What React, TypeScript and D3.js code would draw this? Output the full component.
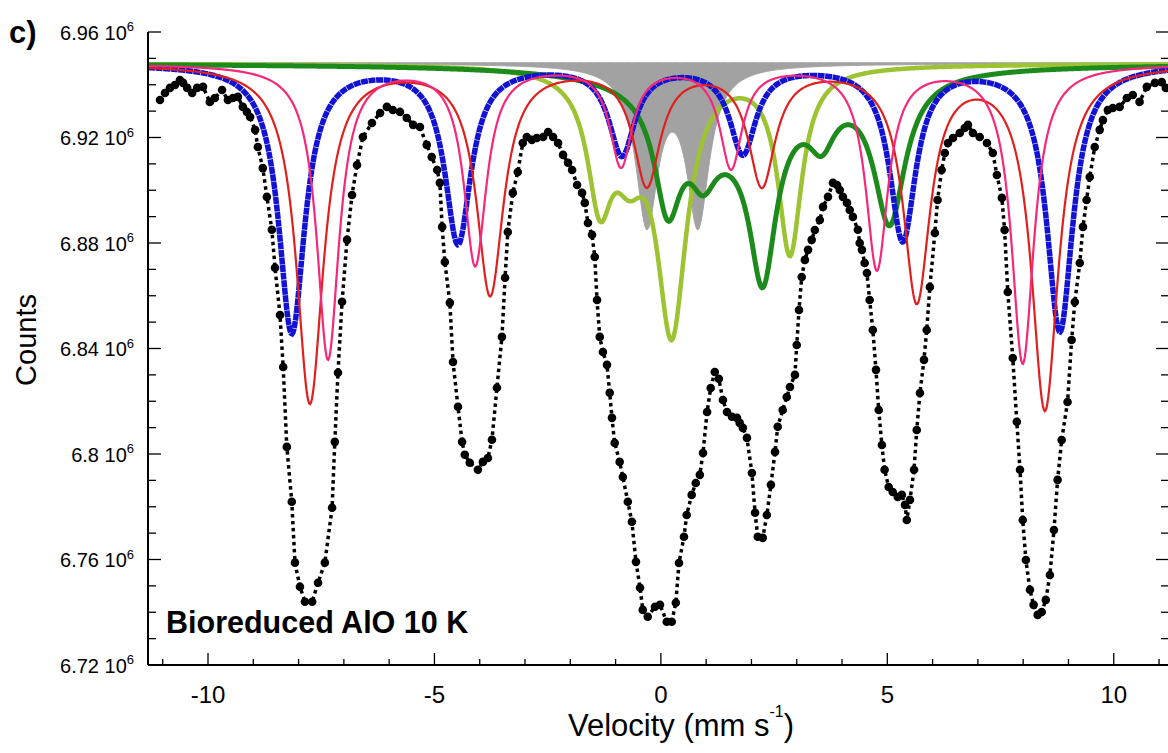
import React from "react";
import * as d3 from "d3";

const W = 1168;
const H = 753;

// axis ticks
const yTicksMajor = [6.72, 6.76, 6.8, 6.84, 6.88, 6.92, 6.96];
const xTicksMajor = [-10, -5, 0, 5, 10];

// fitted baseline (counts ×10^6)
const BASELINE = 6.948;

// measured spectrum: velocity (mm/s)
const velocity = [
  -11.06, -10.95, -10.84, -10.73, -10.62, -10.55, -10.46, -10.35, -10.24, -10.11,
  -9.96, -9.85, -9.69, -9.56, -9.45, -9.34, -9.23, -9.14, -9.07, -8.96,
  -8.9, -8.79, -8.7, -8.59, -8.52, -8.41, -8.34, -8.26, -8.15, -8.08,
  -7.97, -7.86, -7.7, -7.57, -7.42, -7.26, -7.2, -7.13, -7.04, -6.93,
  -6.82, -6.71, -6.58, -6.38, -6.2, -6.05, -5.92, -5.76, -5.61, -5.47,
  -5.32, -5.17, -5.06, -4.94, -4.88, -4.83, -4.77, -4.66, -4.59, -4.48,
  -4.39, -4.33, -4.22, -4.04, -3.93, -3.82, -3.73, -3.62, -3.51, -3.44,
  -3.38, -3.27, -3.16, -3.05, -2.96, -2.85, -2.74, -2.6, -2.49, -2.38,
  -2.27, -2.16, -2.05, -1.96, -1.85, -1.74, -1.68, -1.61, -1.52, -1.46,
  -1.41, -1.35, -1.28, -1.19, -1.13, -1.08, -1.02, -0.91, -0.84, -0.73,
  -0.64, -0.55, -0.46, -0.4, -0.29, -0.13, -0.02, 0.13, 0.24, 0.33,
  0.4, 0.51, 0.57, 0.68, 0.77, 0.86, 0.93, 1.02, 1.1, 1.19,
  1.28, 1.37, 1.46, 1.57, 1.68, 1.74, 1.81, 1.9, 2.01, 2.08,
  2.14, 2.25, 2.34, 2.43, 2.52, 2.58, 2.69, 2.78, 2.85, 2.96,
  3.0, 3.05, 3.11, 3.18, 3.25, 3.33, 3.4, 3.51, 3.58, 3.69,
  3.8, 3.89, 3.95, 4.02, 4.11, 4.17, 4.24, 4.35, 4.39, 4.44,
  4.5, 4.55, 4.61, 4.68, 4.75, 4.81, 4.88, 4.94, 5.03, 5.12,
  5.23, 5.32, 5.39, 5.43, 5.5, 5.59, 5.65, 5.72, 5.81, 5.87,
  5.94, 6.05, 6.11, 6.2, 6.27, 6.34, 6.45, 6.6, 6.71, 6.78,
  6.89, 7.04, 7.2, 7.33, 7.42, 7.53, 7.59, 7.66, 7.77, 7.86,
  7.93, 7.99, 8.06, 8.15, 8.23, 8.32, 8.41, 8.5, 8.59, 8.68,
  8.76, 8.85, 8.98, 9.07, 9.14, 9.25, 9.32, 9.4, 9.47, 9.58,
  9.69, 9.76, 9.87, 9.98, 10.13, 10.29, 10.42, 10.57, 10.73, 10.91,
  11.06, 11.15,
];

// measured spectrum: counts (×10^6)
const counts = [
  6.9342, 6.9369, 6.9388, 6.9399, 6.9418, 6.9407, 6.9388, 6.9369, 6.9388, 6.9392,
  6.9335, 6.935, 6.938, 6.9342, 6.935, 6.9354, 6.9316, 6.9297, 6.9278, 6.9229,
  6.9164, 6.9084, 6.8975, 6.885, 6.8706, 6.8527, 6.833, 6.8027, 6.7819, 6.7588,
  6.7497, 6.744, 6.744, 6.7512, 6.7588, 6.7796, 6.8046, 6.8308, 6.8577, 6.8812,
  6.8982, 6.9096, 6.9202, 6.9255, 6.9293, 6.9316, 6.9304, 6.9297, 6.9274, 6.9248,
  6.924, 6.9172, 6.9126, 6.9077, 6.9028, 6.8861, 6.8728, 6.8573, 6.8349, 6.8179,
  6.8046, 6.7997, 6.7967, 6.794, 6.797, 6.7985, 6.8054, 6.8251, 6.8444, 6.8668,
  6.8842, 6.899, 6.9069, 6.9179, 6.9202, 6.9191, 6.9198, 6.9202, 6.9221, 6.9202,
  6.9179, 6.9134, 6.9104, 6.9077, 6.902, 6.899, 6.8952, 6.8876, 6.8831, 6.8747,
  6.8584, 6.8444, 6.8387, 6.8338, 6.8232, 6.8137, 6.8042, 6.797, 6.7913, 6.7819,
  6.7743, 6.7591, 6.7493, 6.7409, 6.7383, 6.7421, 6.7428, 6.7364, 6.7364, 6.7436,
  6.7587, 6.7686, 6.7769, 6.7845, 6.789, 6.7921, 6.8004, 6.8159, 6.825, 6.8311,
  6.8285, 6.8205, 6.8159, 6.8141, 6.8137, 6.8118, 6.8099, 6.8061, 6.7928, 6.7777,
  6.7686, 6.7682, 6.7769, 6.7883, 6.8008, 6.8103, 6.8167, 6.8216, 6.8254, 6.83,
  6.8413, 6.8546, 6.8671, 6.8736, 6.8774, 6.8812, 6.8849, 6.8887, 6.8937, 6.8975,
  6.9028, 6.902, 6.9001, 6.8975, 6.8952, 6.8925, 6.8899, 6.885, 6.88, 6.8774,
  6.8724, 6.8686, 6.8584, 6.847, 6.8319, 6.8167, 6.8034, 6.794, 6.7875, 6.7856,
  6.7837, 6.7845, 6.7807, 6.775, 6.7826, 6.794, 6.8091, 6.8231, 6.8357, 6.847,
  6.8633, 6.8838, 6.8963, 6.9077, 6.9141, 6.9179, 6.9198, 6.9217, 6.9236, 6.9248,
  6.9217, 6.9202, 6.9179, 6.9141, 6.9058, 6.8971, 6.8849, 6.8614, 6.8364, 6.8122,
  6.794, 6.775, 6.7598, 6.7485, 6.7428, 6.739, 6.7401, 6.7447, 6.7541, 6.7712,
  6.7902, 6.8053, 6.8197, 6.8432, 6.8576, 6.8724, 6.8861, 6.8963, 6.905, 6.9164,
  6.9229, 6.9266, 6.9304, 6.9312, 6.9316, 6.935, 6.9361, 6.9335, 6.9392, 6.9407,
  6.941, 6.9388,
];

// fitted sub-spectra: [line position (mm/s), depth (×10^6 counts), half width (mm/s)]
const blueSextet = [
  [-8.15, 0.1016, 0.35], [-4.48, 0.0672, 0.35], [-0.86, 0.0335, 0.35],
  [1.81, 0.033, 0.35], [5.34, 0.066, 0.35], [8.81, 0.1008, 0.35],
];
const redSextet = [
  [-7.75, 0.1281, 0.36], [-3.77, 0.0864, 0.36], [-0.31, 0.0445, 0.36],
  [2.23, 0.0445, 0.36], [5.65, 0.0883, 0.36], [8.48, 0.13, 0.36],
];
const pinkSextet = [
  [-7.35, 0.1115, 0.3], [-4.1, 0.0754, 0.3], [-0.88, 0.0378, 0.3],
  [1.55, 0.0385, 0.3], [4.77, 0.077, 0.3], [7.99, 0.113, 0.3],
];
const darkGreenLines = [
  [1.6, 0.0227, 1.6], [0.15, 0.0417, 0.35], [0.93, 0.019, 0.35],
  [2.25, 0.0607, 0.35], [3.55, 0.0171, 0.35], [5.05, 0.0553, 0.42],
];
const lightGreenLines = [
  [-1.35, 0.0455, 0.33], [-0.7, 0.0273, 0.42], [0.24, 0.0974, 0.4], [2.85, 0.0701, 0.32],
];
const grayDoublet = [
  [-0.31, 0.0591, 0.3], [0.82, 0.0591, 0.3],
];

const FONT = "'Liberation Sans', Arial, Helvetica, sans-serif";

const x = d3.scaleLinear().domain([-11.325, 11.22]).range([148, 1169]);
const y = d3.scaleLinear().domain([6.72, 6.96]).range([665, 32]);

function spectrum(lines: number[][]): [number, number][] {
  const [v0, v1] = x.domain();
  const vs = d3.range(v0, v1 + 0.001, 0.02);
  return vs.map((v) => {
    let c = BASELINE;
    for (const [p, d, w] of lines) {
      const t = (v - p) / w;
      c -= d / (1 + t * t);
    }
    return [v, c];
  });
}

const line = d3
  .line<[number, number]>()
  .x((d) => x(d[0]))
  .y((d) => y(d[1]));

export default function App() {
  const data: [number, number][] = velocity.map((v, i) => [v, counts[i]]);
  const grayPts = spectrum(grayDoublet);
  const grayArea = d3
    .area<[number, number]>()
    .x((d) => x(d[0]))
    .y0(() => y(BASELINE) - 1)
    .y1((d) => y(d[1]));

  const yMinor = d3.range(6.72, 6.9601, 0.01);
  const xMinor = d3.range(-11, 11.01, 1);
  const xAxisY = y(6.72);
  const left = x.range()[0];
  const right = x.range()[1];

  const fmt = (v: number) => String(+v.toFixed(2));

  return (
    <svg
      width={W}
      height={H}
      style={{ position: "absolute", left: 0, top: 0, background: "#fff" }}
      fontFamily={FONT}
    >
      <rect x={0} y={0} width={W} height={H} fill="#fff" />
      <defs>
        <clipPath id="plot">
          <rect x={left} y={y(6.96) - 2} width={right - left} height={xAxisY - y(6.96) + 2} />
        </clipPath>
      </defs>

      <g clipPath="url(#plot)">
        <path d={grayArea(grayPts) || ""} fill="#a2a2a2" stroke="#a2a2a2" strokeWidth={1} />
        <path d={line(spectrum(lightGreenLines)) || ""} fill="none" stroke="#9dc332" strokeWidth={4.5} />
        <path d={line(spectrum(darkGreenLines)) || ""} fill="none" stroke="#1c8b1c" strokeWidth={5} />
        <path
          d={line(spectrum(blueSextet)) || ""}
          fill="none"
          stroke="#1212d4"
          strokeWidth={5.5}
          strokeDasharray="7 0.6"
        />
        <path d={line(spectrum(redSextet)) || ""} fill="none" stroke="#e0201e" strokeWidth={2.2} />
        <path d={line(spectrum(pinkSextet)) || ""} fill="none" stroke="#f5287a" strokeWidth={2.2} />
        <path
          d={line(data) || ""}
          fill="none"
          stroke="#000"
          strokeWidth={3.5}
          strokeDasharray="3.5 3.5"
        />
        {data.map((d, i) => (
          <circle key={i} cx={x(d[0])} cy={y(d[1])} r={4.3} fill="#000" />
        ))}
      </g>

      {/* axes */}
      <line x1={left} x2={left} y1={y(6.96)} y2={xAxisY} stroke="#000" strokeWidth={2} />
      <line x1={left} x2={W} y1={xAxisY} y2={xAxisY} stroke="#000" strokeWidth={2} />
      {yMinor.map((v, i) => {
        const major = yTicksMajor.some((m) => Math.abs(m - v) < 1e-6);
        const len = major ? 13 : 8;
        return (
          <g key={"yt" + i}>
            <line x1={left} x2={left + len} y1={y(v)} y2={y(v)} stroke="#000" strokeWidth={1.3} />
            <line x1={right} x2={right - len} y1={y(v)} y2={y(v)} stroke="#000" strokeWidth={1.3} />
          </g>
        );
      })}
      {xMinor.map((v, i) => {
        const major = xTicksMajor.includes(Math.round(v));
        const len = major ? 12 : 6;
        return (
          <line
            key={"xt" + i}
            x1={x(v)}
            x2={x(v)}
            y1={xAxisY}
            y2={xAxisY - len}
            stroke="#000"
            strokeWidth={1.3}
          />
        );
      })}

      {yTicksMajor.map((v) => (
        <text key={"yl" + v} x={134} y={y(v) + 7.5} textAnchor="end" fontSize={20} fill="#000">
          {fmt(v) + " 10"}
          <tspan dy={-8.5} fontSize={13}>
            6
          </tspan>
        </text>
      ))}
      {xTicksMajor.map((v) => (
        <text key={"xl" + v} x={x(v)} y={703} textAnchor="middle" fontSize={24} fill="#000">
          {v < 0 ? "-" + Math.abs(v) : String(v)}
        </text>
      ))}

      <text x={681} y={736} textAnchor="middle" fontSize={31} fill="#000">
        Velocity (mm s
        <tspan dy={-19} fontSize={16}>
          -1
        </tspan>
        <tspan dy={19}>)</tspan>
      </text>
      <text
        transform="translate(36,340) rotate(-90)"
        textAnchor="middle"
        fontSize={29}
        fill="#000"
      >
        Counts
      </text>
      <text x={9} y={43} fontSize={31} fontWeight="bold" fill="#000">
        c)
      </text>
      <text x={166} y={633} fontSize={30.5} fontWeight="bold" fill="#000">
        Bioreduced AlO 10 K
      </text>
    </svg>
  );
}
